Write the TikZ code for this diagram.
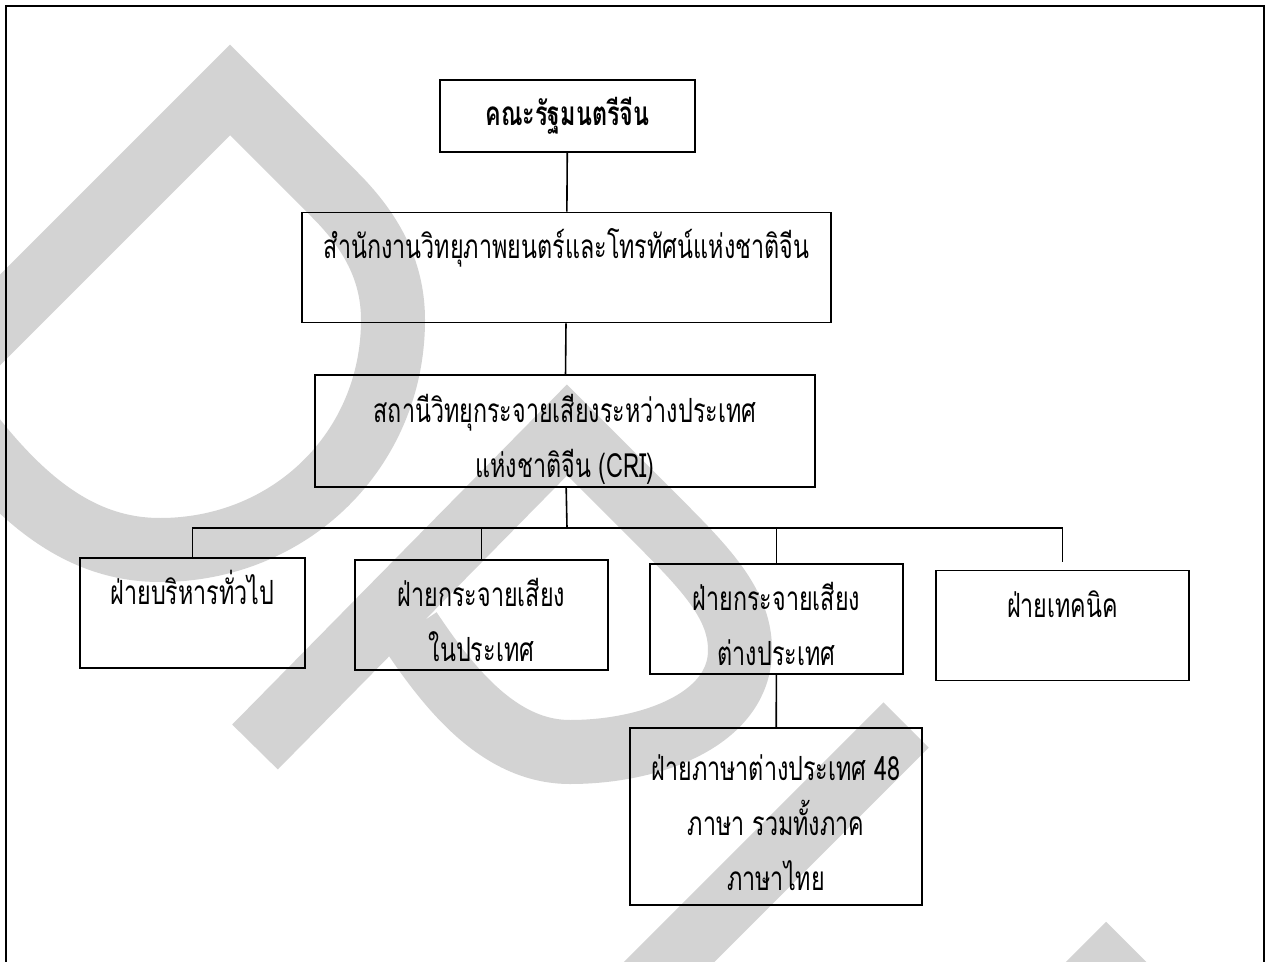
\documentclass[tikz,border=0pt]{standalone}
\usepackage{fontspec}
\newfontfamily\thaifont[Script=Thai,FakeStretch=0.7]{Loma}
\usetikzlibrary{positioning}
\definecolor{wmgray}{RGB}{211,211,211}
% text lines of a box, set a little below the middle
\newcommand{\unitlines}[1]{\raisebox{-6pt}[\height][\depth]{\begin{tabular}{@{}c@{}}#1\end{tabular}}}

\begin{document}
\begin{tikzpicture}[x=0.75pt,y=-0.75pt,
    unit/.style={draw,line width=1.4pt,inner sep=0pt,
      font=\thaifont\fontsize{25}{41.25}\selectfont},
    link/.style={line width=1.2pt},
    wmark/.style={wmgray,line width=48pt,line join=miter,line cap=butt}]
    \path[use as bounding box] (0,0) rectangle (1270,962);
    \clip (0,0) rectangle (1270,962);
    % watermark
    \draw[wmark] (-120,440) -- (230,90) -- (335,195) .. controls (375,235) and (393,275) .. (393,320)
        .. controls (393,450) and (290,550) .. (160,550) .. controls (80,550) and (20,500) .. (-40,420);
    \draw[wmark] (255,747) -- (567,430) -- (640,503) .. controls (700,563) and (740,600) .. (740,650)
        .. controls (740,720) and (650,752) .. (570,752) .. controls (500,752) and (450,690) .. (410,630);
    \draw[wmark] (906,725) -- (600,1031);
    \draw[wmark] (1000,1073) -- (1106,967) -- (1212,1073);
    % frame
    \draw[line width=1.5pt] (6,980) -- (6,6) -- (1264,6) -- (1264,980);
    % boxes
    \node[unit,font=\thaifont\bfseries\fontsize{25}{41.25}\selectfont,
          minimum width=191.25pt,minimum height=54pt] (cabinet) at (567.5,116) {คณะรัฐมนตรีจีน};
    \node[unit,minimum width=396.75pt,minimum height=81.75pt] (sarft) at (566.5,267.5)
        {\unitlines{สำนักงานวิทยุภาพยนตร์และโทรทัศน์แห่งชาติจีน\\ ~}};
    \node[unit,minimum width=375pt,minimum height=84pt] (cri) at (565,431)
        {\unitlines{สถานีวิทยุกระจายเสียงระหว่างประเทศ\\ แห่งชาติจีน (CRI)}};
    \node[unit,minimum width=168.75pt,minimum height=79.5pt] (admin) at (192.5,613)
        {\unitlines{ฝ่ายบริหารทั่วไป\\ ~}};
    \node[unit,minimum width=189.75pt,minimum height=79.5pt] (domestic) at (481.5,615)
        {\unitlines{ฝ่ายกระจายเสียง\\ ในประเทศ}};
    \node[unit,minimum width=189.75pt,minimum height=81pt] (overseas) at (776.5,619)
        {\unitlines{ฝ่ายกระจายเสียง\\ ต่างประเทศ}};
    \node[unit,minimum width=189.75pt,minimum height=81.75pt] (tech) at (1062.5,625.5)
        {\unitlines{ฝ่ายเทคนิค\\ ~}};
    \node[unit,minimum width=219pt,minimum height=132.75pt] (lang) at (776,816.5)
        {\unitlines{ฝ่ายภาษาต่างประเทศ 48\\ ภาษา รวมทั้งภาค\\ ภาษาไทย}};
    % connectors
    \coordinate (bus) at (567,528);
    \draw[link] (cabinet) -- (sarft);
    \draw[link] (sarft) -- (cri);
    \draw[link] (cri) -- (bus);
    \draw[link] (admin.north) |- (bus) -| ([yshift=6pt]tech.north);
    \draw[link] (domestic.north) -- (domestic.north |- bus);
    \draw[link] (overseas.north) -- (overseas.north |- bus);
    \draw[link] (overseas) -- (lang);
\end{tikzpicture}
\end{document}
